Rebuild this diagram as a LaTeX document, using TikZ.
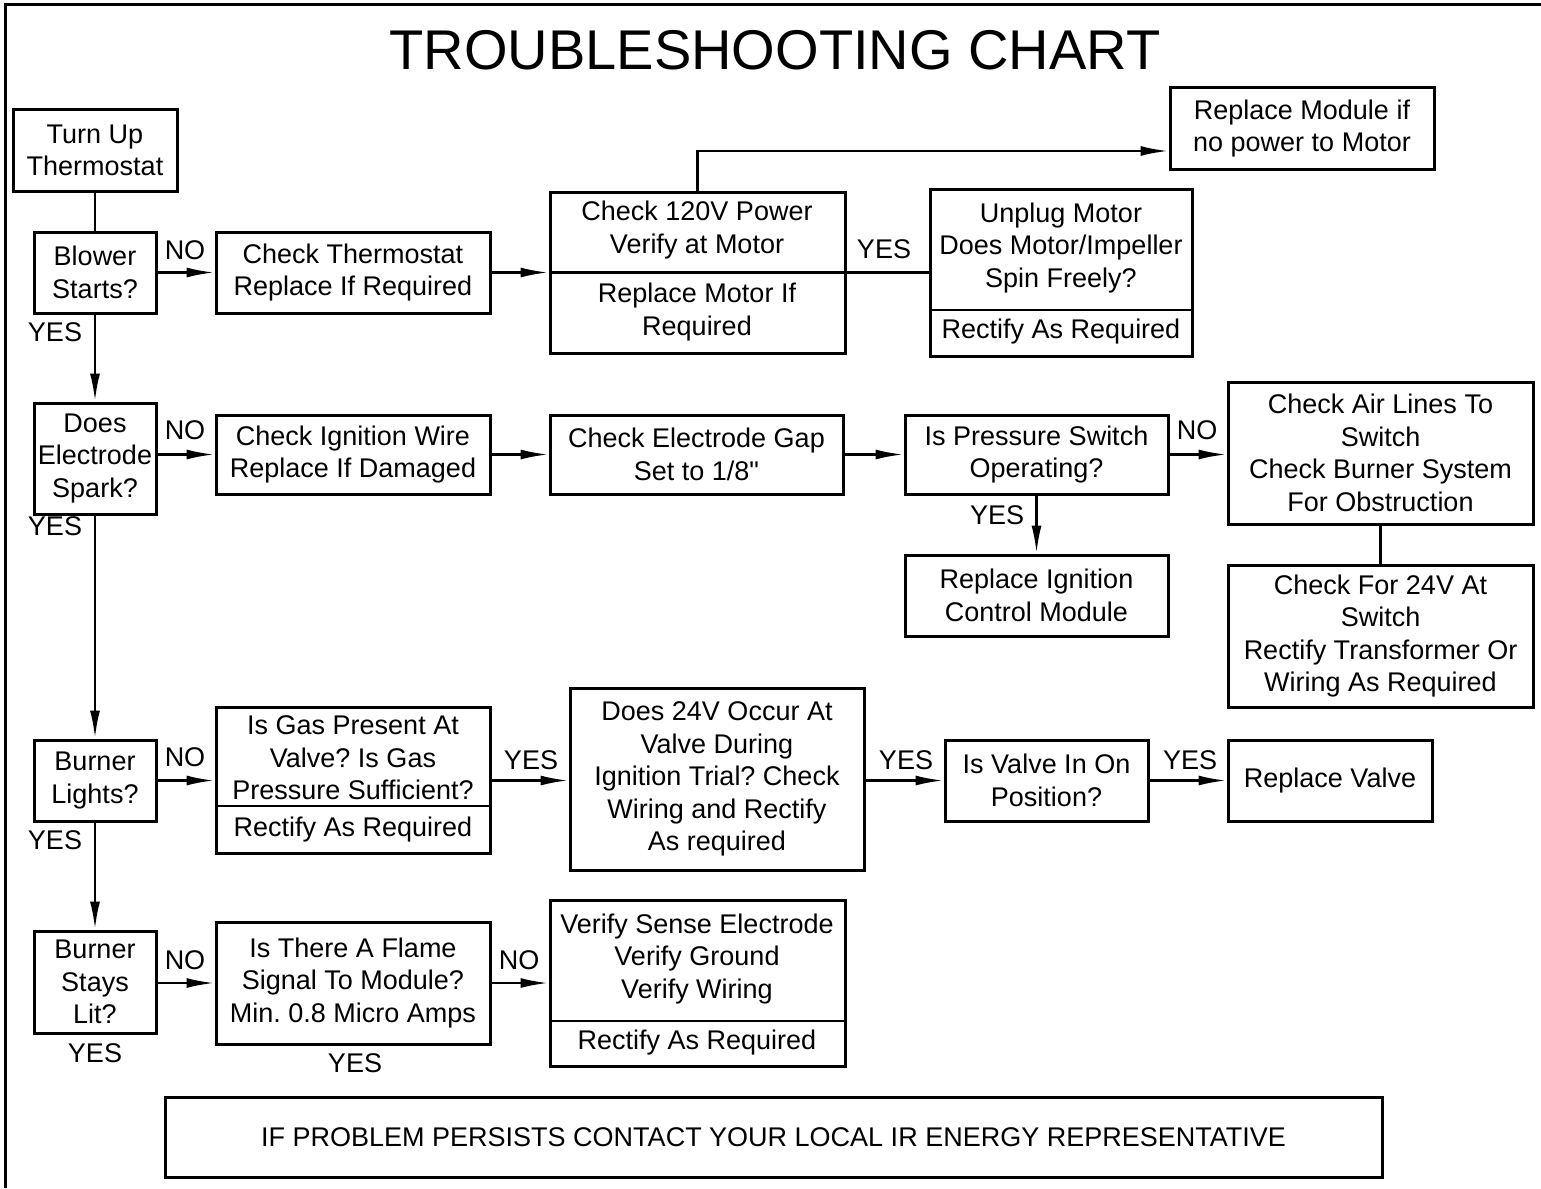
\documentclass[tikz,border=0pt]{standalone}
\usepackage{fontspec}
\setmainfont{Liberation Sans}[Ligatures=TeXOff]
\usetikzlibrary{arrows.meta}
\frenchspacing
\newcommand\bx[6]{\node[box, minimum width={#4-#2}, minimum height={#5-#3}] (#1) at ({(#2+#4)/2},{(#3+#5)/2}) {#6};}
\begin{document}
\begin{tikzpicture}[x=1pt,y=-1pt,
  box/.style={draw, line width=3pt, inner sep=0pt, align=center, font=\fontsize{27}{32.5}\selectfont},
  txt/.style={inner sep=0pt, align=center, font=\fontsize{27}{32.5}\selectfont},
  lbl/.style={inner sep=0pt, font=\fontsize{27}{32.5}\selectfont},
  divline/.style={line width=2.6pt},
  conn/.style={line width=2.5pt},
  arr/.style={line width=2.5pt, -{Latex[length=28pt,width=10pt]}}]
\useasboundingbox (0,0) rectangle (1541,1188);
\draw[line width=3pt] (5,1188) -- (5,5) -- (1541,5);
\node[inner sep=0pt, font=\fontsize{56}{60}\selectfont] (title) at (775,50) {TROUBLESHOOTING CHART};
% row 1
\bx{turn}{13}{110}{177}{191}{Turn Up\\Thermostat}
\bx{blower}{34}{232}{156}{313}{Blower\\Starts?}
\bx{ckthermo}{216}{232}{490}{313}{Check Thermostat\\Replace If Required}
\bx{pow}{550}{192}{845}{353}{}
\draw[divline] (pow.west) -- (pow.east);
\node[txt] (powa) at (697,230) {Check 120V Power\\Verify at Motor};
\node[txt] (powb) at (697,312) {Replace Motor If\\Required};
\bx{repmod}{1170}{88}{1434}{169}{Replace Module if\\no power to Motor}
\bx{unplug}{930}{189}{1192}{356}{}
\draw[divline] (930,310) coordinate (ud1) -- (1192,310) coordinate (ud2);
\node[txt] (unpa) at (1061,248) {Unplug Motor\\Does Motor/Impeller\\Spin Freely?};
\node[txt] (unpb) at (1061,332) {Rectify As Required};
% row 2
\bx{spark}{34}{403}{156}{514}{Does\\Electrode\\Spark?}
\bx{ign}{216}{415}{490}{494}{Check Ignition Wire\\Replace If Damaged}
\bx{gap}{550}{415}{843}{494}{Check Electrode Gap\\Set to 1/8"}
\bx{press}{905}{415}{1168}{494}{Is Pressure Switch\\Operating?}
\bx{air}{1228}{382}{1533}{524}{Check Air Lines To\\Switch\\Check Burner System\\For Obstruction}
\bx{cff}{1228}{565}{1533}{707}{Check For 24V At\\Switch\\Rectify Transformer Or\\Wiring As Required}
\bx{repign}{905}{555}{1168}{636}{Replace Ignition\\Control Module}
% row 3
\bx{lights}{34}{740}{156}{821}{Burner\\Lights?}
\bx{gas}{216}{707}{490}{853}{}
\draw[divline] (216,806) coordinate (gd1) -- (490,806) coordinate (gd2);
\node[txt] (gasa) at (353,758) {Is Gas Present At\\Valve? Is Gas\\Pressure Sufficient?};
\node[txt] (gasb) at (353,830) {Rectify As Required};
\bx{dtf}{570}{688}{864}{870}{Does 24V Occur At\\Valve During\\Ignition Trial? Check\\Wiring and Rectify\\As required}
\bx{valve}{945}{740}{1148}{821}{Is Valve In On\\Position?}
\bx{repvalve}{1228}{740}{1432}{821}{Replace Valve}
% row 4
\bx{lit}{34}{931}{156}{1033}{Burner\\Stays\\Lit?}
\bx{flame}{216}{922}{490}{1044}{Is There A Flame\\Signal To Module?\\Min. 0.8 Micro Amps}
\bx{verify}{550}{900}{845}{1066}{}
\draw[divline] (550,1021) coordinate (vd1) -- (845,1021) coordinate (vd2);
\node[txt] (vera) at (697,959) {Verify Sense Electrode\\Verify Ground\\Verify Wiring};
\node[txt] (verb) at (697,1043) {Rectify As Required};
\bx{persist}{165}{1097}{1382}{1177}{IF PROBLEM PERSISTS CONTACT YOUR LOCAL IR ENERGY REPRESENTATIVE}
% connectors
\draw[conn] (turn.south) -- (blower.north);
\draw[arr] (blower.east) -- (ckthermo.west);
\draw[arr] (ckthermo.east) -- (pow.west);
\draw[conn] (pow.east) -- (unplug.west);
\draw[arr] (pow.north) |- ([yshift=-22.5pt]repmod.west);
\draw[arr] (blower.south) -- (spark.north);
\draw[arr] (spark.east |- ign.west) -- (ign.west);
\draw[arr] (ign.east) -- (gap.west);
\draw[arr] (gap.east) -- (press.west);
\draw[arr] (press.east) -- (air.west |- press.east);
\draw[conn] (air.south) -- (cff.north);
\draw[arr] (press.south) -- (repign.north);
\draw[arr] (spark.south) -- (lights.north);
\draw[arr] (lights.east) -- (gas.west |- lights.east);
\draw[arr] (gas.east |- lights.east) -- (dtf.west |- lights.east);
\draw[arr] (dtf.east |- lights.east) -- (valve.west);
\draw[arr] (valve.east) -- (repvalve.west);
\draw[arr] (lights.south) -- (lit.north);
\draw[arr] (lit.east |- flame.west) -- (flame.west);
\draw[arr] (flame.east) -- (verify.west |- flame.east);
% labels
\node[lbl] (n1) at (185,250) {NO};
\node[lbl] (n2) at (185,430) {NO};
\node[lbl] (n3) at (185,757) {NO};
\node[lbl] (n4) at (185,960) {NO};
\node[lbl] (n5) at (519,960) {NO};
\node[lbl] (n6) at (1197,430) {NO};
\node[lbl] (y1) at (884,249) {YES};
\node[lbl] (y2) at (55,332) {YES};
\node[lbl] (y3) at (55,526) {YES};
\node[lbl] (y4) at (997,515) {YES};
\node[lbl] (y5) at (531,760) {YES};
\node[lbl] (y6) at (906,760) {YES};
\node[lbl] (y7) at (1190,760) {YES};
\node[lbl] (y8) at (55,840) {YES};
\node[lbl] (y9) at (95,1053) {YES};
\node[lbl] (y10) at (355,1063) {YES};
\end{tikzpicture}
\end{document}
